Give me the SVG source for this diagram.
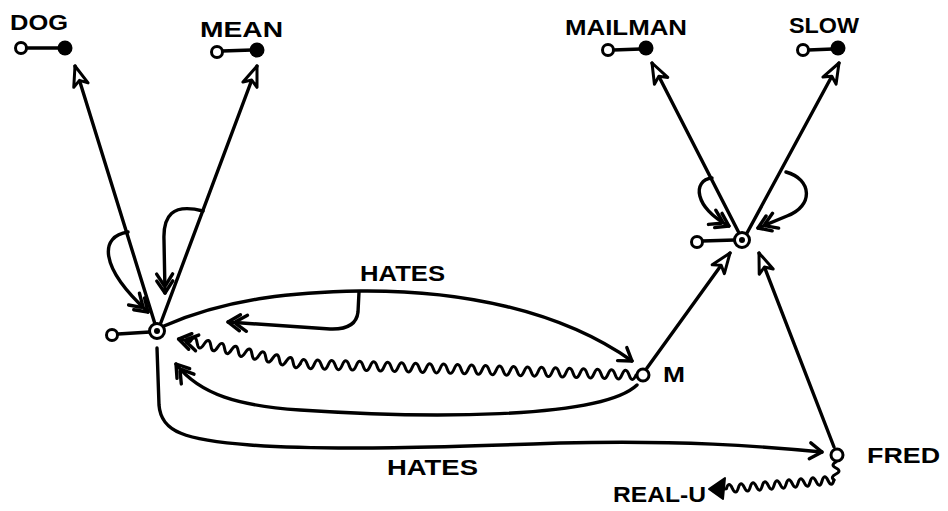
<svg xmlns="http://www.w3.org/2000/svg" width="948" height="511" viewBox="0 0 948 511">
<style>
.ln{fill:none;stroke:#000;stroke-width:3.4;stroke-linecap:round;stroke-linejoin:round}
.wv{fill:none;stroke:#000;stroke-width:3;stroke-linecap:round;stroke-linejoin:round}
.open{fill:#fff;stroke:#000;stroke-width:3}
.dot{fill:#000}
.lbl{font-family:"Liberation Sans",Arial,sans-serif;font-weight:bold;font-size:22px;fill:#000}
</style>
<defs>
<marker id="tri" markerUnits="userSpaceOnUse" markerWidth="30" markerHeight="30" viewBox="-25 -15 30 30" refX="0" refY="0" orient="auto" overflow="visible">
<path d="M0,0 L-20,-7.5 L-15,0 L-20,7.5 Z" fill="#fff" stroke="#000" stroke-width="3" stroke-linejoin="round"/>
</marker>
<marker id="chev" markerUnits="userSpaceOnUse" markerWidth="30" markerHeight="30" viewBox="-25 -15 30 30" refX="0" refY="0" orient="auto" overflow="visible">
<path d="M-12,-8 L0,0 L-12,8" fill="none" stroke="#000" stroke-width="3.4" stroke-linecap="round" stroke-linejoin="round"/>
</marker>
<marker id="chev2" markerUnits="userSpaceOnUse" markerWidth="30" markerHeight="30" viewBox="-25 -15 30 30" refX="0" refY="0" orient="auto" overflow="visible">
<path d="M-12,-8 L0,0 L-12,8 M-19,-8 L-8,-1 M-19,8 L-8,1" fill="none" stroke="#000" stroke-width="3.4" stroke-linecap="round" stroke-linejoin="round"/>
</marker>
</defs>
<rect width="948" height="511" fill="#fff"/>

<g id="connectors">
<path class="ln" d="M155,324 L75,66" marker-end="url(#tri)"/>
<path class="ln" d="M160,325 L257,66" marker-end="url(#tri)"/>
<path class="ln" d="M128,232 C100,236 98,266 148,312" marker-end="url(#chev2)"/>
<path class="ln" d="M203,211 C172,203 163,216 164,240 L165,293" marker-end="url(#chev2)"/>
<path class="ln" d="M164,326 C230,297 300,292 360,291 C460,290 560,310 632,361" marker-end="url(#chev)"/>
<path class="ln" d="M359,292 L358,312 Q356,330 330,329 L228,322" marker-end="url(#chev2)"/>
<g transform="translate(636,375) rotate(181.9)">
<path class="wv" d="M0,0 q3.5,-9 7,0 t7,0 t7,0 t7,0 t7,0 t7,0 t7,0 t7,0 t7,0 t7,0 t7,0 t7,0 t7,0 t7,0 t7,0 t7,0 t7,0 t7,0 t7,0 t7,0 t7,0 t7,0 t7,0 t7,0 t7,0 t7,0 t7,0 t7,0 t7,0 t7,0 t7,0 t7,0 t7,0 t7,0 t7,0 t7,0 t7,0 t7,0 t7,0 t7,0 t7,0 t7,0 t7,0 t7,0 t7,0 t7,0 t7,0 t7,0"/>
</g>
<g transform="translate(300,364) rotate(191.6)">
<path class="wv" d="M0,0 q3.5,-9 7,0 t7,0 t7,0 t7,0 t7,0 t7,0 t7,0 t7,0 t7,0 t7,0 t7,0 t7,0 t7,0 t7,0 t7,0 t7,0 h12" marker-end="url(#chev2)"/>
</g>
<path class="ln" d="M637,385 C600,420 420,418 300,410 C240,406 200,395 176,364" marker-end="url(#chev2)"/>
<path class="ln" d="M157,348 L159,405 C161,432 185,440 250,445 C330,451 450,447 560,443 C680,440 760,446 822,452" marker-end="url(#chev)"/>
<path class="ln" d="M739,233 L652,63" marker-end="url(#tri)"/>
<path class="ln" d="M747,233 L839,63" marker-end="url(#tri)"/>
<path class="ln" d="M712,178 C692,180 694,208 729,226" marker-end="url(#chev2)"/>
<path class="ln" d="M786,172 C812,179 814,206 787,216 L758,228" marker-end="url(#chev2)"/>
<path class="ln" d="M647,368 L730,253" marker-end="url(#tri)"/>
<path class="ln" d="M834,447 L759,253" marker-end="url(#tri)"/>
<path class="wv" d="M836,462 q-6,3 0,6 t0,6 t-2,6"/>
<g transform="translate(834,480) rotate(175.3)">
<path class="wv" d="M0,0 q3,-8 6,0 t6,0 t6,0 t6,0 t6,0 t6,0 t6,0 t6,0 t6,0 t6,0 t6,0 t6,0 t6,0 t6,0 t6,0 t6,0 t6,0 t6,0 h2"/>
</g>
<polygon points="709,489 725,478 723,499" fill="#000" stroke="#000" stroke-width="2" stroke-linejoin="round"/>
</g>

<g id="n-dog">
<line class="ln" x1="26" y1="48" x2="60" y2="48"/>
<circle class="open" cx="21" cy="48" r="5.5"/>
<circle class="dot" cx="65" cy="48" r="7.5"/>
<text class="lbl" x="10" y="30" textLength="58" lengthAdjust="spacingAndGlyphs">DOG</text>
</g>
<g id="n-mean">
<line class="ln" x1="222" y1="51" x2="252" y2="50"/>
<circle class="open" cx="217" cy="52" r="5.5"/>
<circle class="dot" cx="257" cy="50" r="7.5"/>
<text class="lbl" x="200" y="37" textLength="83" lengthAdjust="spacingAndGlyphs">MEAN</text>
</g>
<g id="n-mailman">
<line class="ln" x1="613" y1="50" x2="641" y2="49"/>
<circle class="open" cx="608" cy="50" r="5.5"/>
<circle class="dot" cx="646" cy="48" r="7.5"/>
<text class="lbl" x="565" y="35" textLength="122" lengthAdjust="spacingAndGlyphs">MAILMAN</text>
</g>
<g id="n-slow">
<line class="ln" x1="808" y1="50" x2="833" y2="49"/>
<circle class="open" cx="803" cy="50" r="5.5"/>
<circle class="dot" cx="838" cy="48" r="7.5"/>
<text class="lbl" x="789" y="33" textLength="70" lengthAdjust="spacingAndGlyphs">SLOW</text>
</g>
<g id="n-hub1">
<line class="ln" x1="118" y1="334" x2="150" y2="332"/>
<circle class="open" cx="112" cy="335" r="5.5"/>
<circle class="open" cx="157" cy="331" r="7.5"/>
<circle class="dot" cx="157" cy="331" r="3"/>
</g>
<g id="n-hub2">
<line class="ln" x1="702" y1="241" x2="735" y2="240"/>
<circle class="open" cx="697" cy="242" r="5.5"/>
<circle class="open" cx="742" cy="240" r="7.5"/>
<circle class="dot" cx="742" cy="240" r="3"/>
</g>
<g id="n-m">
<circle class="open" cx="643" cy="375" r="6"/>
<text class="lbl" x="663" y="382" textLength="22" lengthAdjust="spacingAndGlyphs">M</text>
</g>
<g id="n-fred">
<circle class="open" cx="837" cy="455" r="6"/>
<text class="lbl" x="867" y="463" textLength="73" lengthAdjust="spacingAndGlyphs">FRED</text>
</g>
<g id="n-realu">
<text class="lbl" x="613" y="502" textLength="93" lengthAdjust="spacingAndGlyphs">REAL-U</text>
</g>
<g id="labels">
<text class="lbl" x="360" y="281" textLength="85" lengthAdjust="spacingAndGlyphs">HATES</text>
<text class="lbl" x="387" y="475" textLength="91" lengthAdjust="spacingAndGlyphs">HATES</text>
</g>
</svg>
